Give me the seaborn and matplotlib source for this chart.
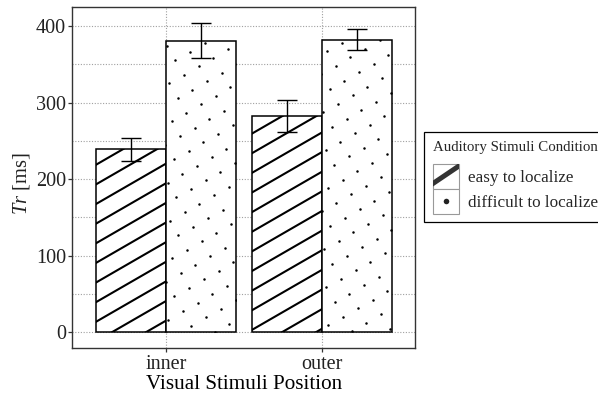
import numpy as np
import pandas as pd
import matplotlib
matplotlib.use("Agg")
import matplotlib.pyplot as plt
import matplotlib.transforms as mtransforms
import seaborn as sns
from matplotlib.patches import Rectangle, Patch
from matplotlib.lines import Line2D
from matplotlib.legend_handler import HandlerBase

# ---------------- data ----------------
positions = ["inner", "outer"]
conditions = ["easy to localize", "difficult to localize"]
easy_mean = [239, 283]
easy_err = [15, 21]
difficult_mean = [381, 382]
difficult_err = [23, 14]
y_major = [0, 100, 200, 300, 400]
y_minor = [50, 150, 250, 350]

# ---------------- style ----------------
sns.set_theme(style="white")
plt.rcParams["font.family"] = ["Liberation Serif", "DejaVu Serif"]
plt.rcParams["mathtext.fontset"] = "custom"
plt.rcParams["mathtext.rm"] = "Liberation Serif"
plt.rcParams["mathtext.it"] = "Liberation Serif:italic"

df = pd.DataFrame({
    "position": positions * 2,
    "condition": [conditions[0]] * 2 + [conditions[1]] * 2,
    "Tr": easy_mean + difficult_mean,
})

W, H = 598, 394
fig = plt.figure(figsize=(W / 100, H / 100), dpi=100)
fig.patch.set_facecolor("white")
ax = fig.add_axes([72.3 / W, 1 - 347.7 / H, (415.3 - 72.3) / W, (347.7 - 7.3) / H])

sns.barplot(data=df, x="position", y="Tr", hue="condition", order=positions,
            hue_order=conditions, palette={c: "white" for c in conditions},
            edgecolor="black", linewidth=1.1, width=0.9, errorbar=None,
            saturation=1, legend=False, ax=ax)
bar_conts = list(ax.containers[:2])

ax.set_xlim(-0.6, 1.6)
ax.set_ylim(-20.1, 424.4)

for cont, means, errs in [(bar_conts[0], easy_mean, easy_err),
                          (bar_conts[1], difficult_mean, difficult_err)]:
    xs = [p.get_x() + p.get_width() / 2 for p in cont]
    ax.errorbar(xs, means, yerr=errs, fmt="none", ecolor="black",
                elinewidth=1.0, capsize=7.4, capthick=1.0, zorder=5)

# ---------------- pattern fills ----------------
inv = ax.transData.inverted()
ang = np.radians(30)
spacing = 17.0


def stripes(patch):
    bb = patch.get_window_extent()
    x0, y0, x1, y1 = bb.x0, bb.y0, bb.x1, bb.y1
    m = np.tan(ang)
    dy = spacing / np.cos(ang)
    c0 = 16.78
    kmin = int(np.floor((y0 - m * x1 - c0) / dy)) - 1
    kmax = int(np.ceil((y1 - m * x0 - c0) / dy)) + 1
    for k in range(kmin, kmax + 1):
        c = c0 + k * dy
        pts = np.array([[x0 - 5, m * (x0 - 5) + c], [x1 + 5, m * (x1 + 5) + c]])
        d = inv.transform(pts)
        ln = Line2D(d[:, 0], d[:, 1], color="black", lw=1.5,
                    solid_capstyle="butt", zorder=patch.get_zorder() + 0.5)
        ax.add_line(ln)
        ln.set_clip_path(patch)


def dots(patch):
    bb = patch.get_window_extent()
    x0, y0, x1, y1 = bb.x0, bb.y0, bb.x1, bb.y1
    u = spacing * np.array([np.cos(ang), np.sin(ang)])
    v = spacing * np.array([np.sin(ang), -np.cos(ang)])
    anchor = np.array([323.3, H - 112.3])
    corners = np.array([[x0, y0], [x0, y1], [x1, y0], [x1, y1]]) - anchor
    ps = corners @ u / spacing ** 2
    qs = corners @ v / spacing ** 2
    pts = []
    for p in range(int(np.floor(ps.min())) - 1, int(np.ceil(ps.max())) + 2):
        for q in range(int(np.floor(qs.min())) - 1, int(np.ceil(qs.max())) + 2):
            pt = anchor + p * u + q * v
            if x0 - 1 <= pt[0] <= x1 + 1 and y0 - 1 <= pt[1] <= y1 + 1:
                pts.append(pt)
    pts = np.array(pts)
    d = inv.transform(pts)
    lines = ax.plot(d[:, 0], d[:, 1], "o", ms=1.8, mew=0, color="black",
                    zorder=patch.get_zorder() + 0.5)
    for ln in lines:
        ln.set_clip_path(patch)


for p in bar_conts[0]:
    stripes(p)
for p in bar_conts[1]:
    dots(p)

# ---------------- axes styling ----------------
ax.set_yticks(y_major)
ax.set_yticks(y_minor, minor=True)
ax.set_axisbelow(True)
ax.grid(which="major", axis="both", ls=(0, (1, 1.5)), color="#a0a0a0", lw=0.8)
ax.grid(which="minor", axis="y", ls=(0, (1, 1.5)), color="#a0a0a0", lw=0.8)
for s in ax.spines.values():
    s.set_color("#333333")
    s.set_linewidth(1.0)
tick_len = 2.9
ax.tick_params(axis="both", which="major", direction="out", length=tick_len,
               width=0.9, color="#333333", labelsize=14.5, labelcolor="#222222",
               left=True, bottom=True)
ax.tick_params(axis="y", which="major", pad=1.6)
# x tick labels: baseline ~21.3 px below the panel bottom
ax.tick_params(axis="x", which="major", pad=(369.3 - 348.0) * 0.72 - tick_len)
for lab in ax.get_xticklabels():
    lab.set_verticalalignment("baseline")
ax.tick_params(axis="y", which="minor", length=0, left=False)

ax.set_xlabel("Visual Stimuli Position", fontsize=15.2, color="black")
ax.xaxis.label.set_verticalalignment("baseline")
ax.xaxis.set_label_coords(0.5, 1 - 389.3 / H,
                          transform=mtransforms.blended_transform_factory(ax.transAxes, fig.transFigure))
ax.set_ylabel("$Tr$ [ms]", fontsize=14.8, color="#222222")
ax.yaxis.label.set_verticalalignment("center")
ax.yaxis.label.set_horizontalalignment("center")
ax.yaxis.set_label_coords(21.5 / W, 1 - 183.5 / H, transform=fig.transFigure)


# ---------------- legend ----------------
class StripeKey(HandlerBase):
    def create_artists(self, legend, orig_handle, xdescent, ydescent,
                       width, height, fontsize, trans):
        rect = Rectangle((-xdescent, -ydescent), width, height, facecolor="white",
                         edgecolor="#999999", lw=0.8, transform=trans)
        ln = Line2D([-xdescent - 2, -xdescent + width + 2],
                    [-ydescent + 0.2 * height - 2 * 0.68, -ydescent + 0.9 * height + 2 * 0.68],
                    color="#333333", lw=3.6, solid_capstyle="butt", transform=trans)
        ln.set_clip_path(rect)
        return [rect, ln]


class DotKey(HandlerBase):
    def create_artists(self, legend, orig_handle, xdescent, ydescent,
                       width, height, fontsize, trans):
        rect = Rectangle((-xdescent, -ydescent), width, height, facecolor="white",
                         edgecolor="#999999", lw=0.8, transform=trans)
        ln = Line2D([-xdescent + width / 2], [-ydescent + height / 2], marker="o",
                    ms=4.0, mew=0, color="#222222", ls="none", transform=trans)
        return [rect, ln]


h_easy = Patch(facecolor="white", label=conditions[0])
h_diff = Patch(facecolor="white", label=conditions[1])
fs = 12.3
fs_px = fs * 100 / 72
key_h = 25.0
hh = (key_h / fs_px - 0.245) / 0.65
leg = ax.legend(handles=[h_easy, h_diff], labels=conditions,
                title="Auditory Stimuli Condition",
                handler_map={h_easy: StripeKey(), h_diff: DotKey()},
                loc="upper left", bbox_to_anchor=(424 / W, 1 - 132.5 / H),
                bbox_transform=fig.transFigure, frameon=True, fancybox=False,
                edgecolor="black", framealpha=1, fontsize=fs, title_fontsize=10.7,
                handlelength=26 / fs_px, handleheight=hh, labelspacing=0,
                handletextpad=0.55, borderpad=0.5, borderaxespad=0,
                alignment="left")
leg.get_frame().set_linewidth(0.9)
leg._legend_box.sep = 7

fig.savefig("out.png", dpi=100, facecolor="white")
